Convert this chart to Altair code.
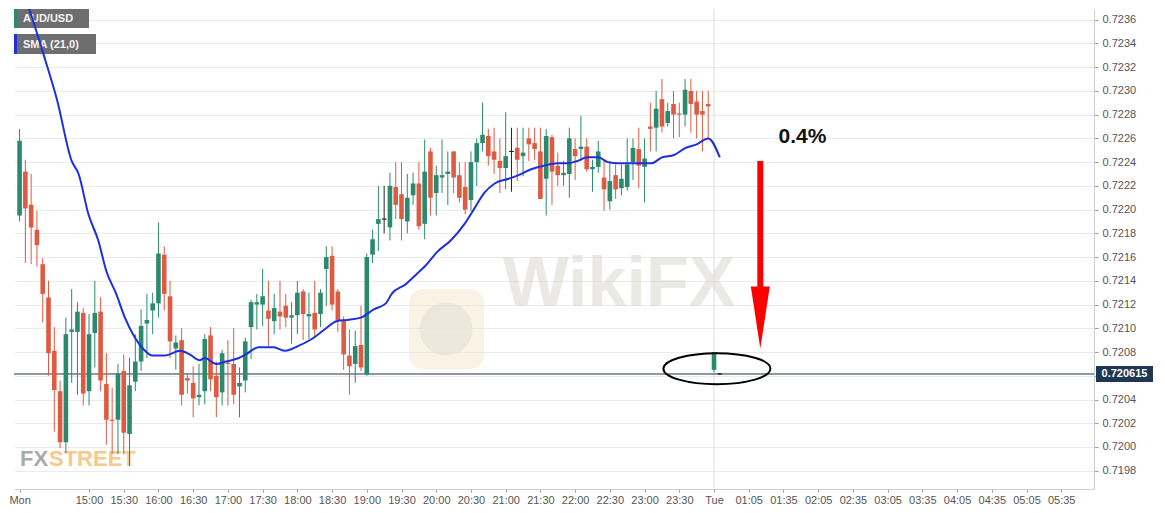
import altair as alt
import pandas as pd
import numpy as np

# ---- 5-minute AUD/USD candles, Mon 14:00 -> Tue 00:05 (index 0 = 14:00) ----
opens = [
    .72195, .72232, .72204, .72183, .72154, .72126, .72081, .72047, .72004, .72097,
    .72097, .72113, .72047, .72096, .72114, .72053, .72023, .72023, .72064, .72011,
    .72055, .72072, .72104, .72115, .72121, .72162, .72127, .72083, .72090, .72058,
    .72054, .72042, .72047, .72094, .72060, .72046, .72071, .72070, .72051, .72056,
    .72101, .72120, .72120, .72115, .72106, .72114, .72119, .72109, .72111, .72131,
    .72110, .72113, .72112, .72150, .72161, .72131, .72106, .72077, .72070, .72086,
    .72061, .72162, .72188, .72192, .72185, .72219, .72213, .72190, .72212, .72222,
    .72188, .72249, .72214, .72227, .72230, .72249, .72229, .72219, .72208, .72240,
    .72256, .72262, .72249, .72241, .72235, .72249, .72252, .72245, .72260, .72256,
    .72249, .72226, .72261, .72237, .72229, .72230, .72251, .72251, .72253, .72234,
    .72236, .72227, .72207, .72229, .72218, .72219, .72240, .72251, .72236, .72270,
    .72269, .72293, .72273, .72289, .72281, .72280, .72300, .72291, .72283, .72289,
    .72065, .720615,
]
highs = [
    .72268, .72242, .72230, .72199, .72159, .72140, .72101, .72056, .72109, .72133,
    .72122, .72117, .72112, .72140, .72126, .72079, .72050, .72070, .72078, .72075,
    .72095, .72116, .72129, .72130, .72189, .72169, .72140, .72094, .72100, .72062,
    .72068, .72070, .72095, .72101, .72072, .72082, .72090, .72100, .72067, .72092,
    .72124, .72129, .72150, .72140, .72129, .72140, .72129, .72122, .72140, .72133,
    .72130, .72140, .72133, .72169, .72169, .72133, .72110, .72099, .72098, .72119,
    .72163, .72183, .72220, .72220, .72231, .72240, .72240, .72230, .72231, .72240,
    .72259, .72252, .72237, .72259, .72249, .72249, .72240, .72240, .72249, .72260,
    .72290, .72268, .72269, .72260, .72282, .72269, .72269, .72269, .72269, .72269,
    .72269, .72268, .72263, .72248, .72241, .72269, .72260, .72279, .72260, .72242,
    .72258, .72241, .72241, .72238, .72238, .72260, .72260, .72269, .72260, .72290,
    .72300, .72310, .72290, .72300, .72290, .72310, .72310, .72300, .72300, .72300,
    .72080, .720625,
]
lows = [
    .72190, .72155, .72154, .72152, .72105, .72060, .72013, .71999, .71995, .72054,
    .72044, .72035, .72035, .72067, .72047, .72002, .71994, .71994, .71994, .71984,
    .72047, .72064, .72075, .72095, .72109, .72115, .72075, .72065, .72035, .72045,
    .72025, .72035, .72036, .72047, .72025, .72035, .72035, .72036, .72025, .72046,
    .72074, .72099, .72102, .72085, .72095, .72099, .72101, .72087, .72095, .72090,
    .72091, .72092, .72101, .72119, .72115, .72097, .72065, .72044, .72054, .72064,
    .72060, .72155, .72165, .72180, .72174, .72192, .72174, .72180, .72204, .72183,
    .72175, .72195, .72195, .72214, .72204, .72214, .72206, .72196, .72199, .72220,
    .72249, .72237, .72230, .72214, .72217, .72215, .72224, .72228, .72241, .72242,
    .72209, .72195, .72204, .72220, .72220, .72210, .72225, .72241, .72232, .72215,
    .72231, .72199, .72200, .72209, .72212, .72216, .72225, .72218, .72206, .72249,
    .72249, .72265, .72270, .72260, .72261, .72270, .72265, .72260, .72249, .72260,
    .72063, .72061,
]
closes = [
    .72258, .72201, .72185, .72170, .72129, .72079, .72048, .72004, .72095, .72099,
    .72114, .72045, .72095, .72113, .72056, .72023, .72022, .72062, .72012, .72052,
    .72072, .72102, .72107, .72121, .72163, .72129, .72089, .72088, .72044, .72056,
    .72041, .72044, .72091, .72057, .72042, .72079, .72070, .72044, .72054, .72089,
    .72122, .72122, .72127, .72108, .72117, .72110, .72109, .72111, .72130, .72112,
    .72112, .72099, .72130, .72160, .72120, .72106, .72078, .72068, .72085, .72067,
    .72160, .72175, .72192, .72192, .72220, .72204, .72192, .72210, .72222, .72186,
    .72232, .72210, .72229, .72229, .72232, .72227, .72210, .72200, .72240, .72256,
    .72263, .72245, .72242, .72235, .72245, .72249, .72242, .72248, .72255, .72251,
    .72209, .72262, .72232, .72229, .72231, .72260, .72245, .72253, .72234, .72236,
    .72249, .72217, .72224, .72217, .72226, .72238, .72252, .72237, .72243, .72268,
    .72285, .72270, .72283, .72280, .72280, .72301, .72289, .72280, .72280, .72287,
    .72080, .720615,
]

# ---- SMA(21) (candle index, value) ----
sma_idx = [0, 1.14, 4.5, 6.5, 9, 10.2, 11.9, 13.6, 15, 16.7, 18.2, 19.6, 21.3, 23, 25.2,
           27.7, 29.4, 31.1, 32, 34, 35.7, 37.9, 39.1, 41.3, 43.9, 45.9, 48.1, 50.5, 52.7,
           54.8, 56.6, 59, 61.2, 63.3, 64.3, 66.7, 68.9, 70, 72.3, 74.5, 76.9, 78.6, 80.3,
           82.1, 84.5, 86.2, 88.4, 90.6, 93, 94.7, 96.4, 98.1, 100, 101.7, 103.4, 106.3,
           109.2, 111, 113.1, 115.1, 117, 119, 121]
sma_val = [.72390, .72376, .72325, .72292, .72241, .72230, .72196, .72174, .72148, .72129,
           .72109, .72095, .72083, .72077, .72077, .72081, .72078, .72073, .72075, .72070,
           .72072, .72075, .72078, .72084, .72084, .72081, .72085, .72091, .72099, .72106,
           .72107, .72109, .72116, .72121, .72129, .72137, .72147, .72152, .72165, .72174,
           .72188, .72201, .72214, .72222, .72226, .72229, .72234, .72237, .72239, .72239,
           .72241, .72244, .72244, .72240, .72239, .72239, .72239, .72244, .72246, .72252,
           .72255, .72260, .72244]

# ---- axis ticks ----
tick_idx = [0, 12, 18, 24, 30, 36, 42, 48, 54, 60, 66, 72, 78, 84, 90, 96, 102, 108, 114,
            120, 126, 132, 138, 144, 150, 156, 162, 168, 174, 180]
tick_text = ["Mon", "15:00", "15:30", "16:00", "16:30", "17:00", "17:30", "18:00", "18:30",
             "19:00", "19:30", "20:00", "20:30", "21:00", "21:30", "22:00", "22:30", "23:00",
             "23:30", "Tue", "01:05", "01:35", "02:05", "02:35", "03:05", "03:35", "04:05",
             "04:35", "05:05", "05:35"]
y_ticks = [0.7198, 0.7200, 0.7202, 0.7204, 0.7206, 0.7208, 0.7210, 0.7212, 0.7214, 0.7216,
           0.7218, 0.7220, 0.7222, 0.7224, 0.7226, 0.7228, 0.7230, 0.7232, 0.7234, 0.7236]
hidden_y_label = "0.7206"   # covered by the last-price tag

# ---- annotations ----
last_price = [0.720615]
last_label = ["0.720615"]
session_idx = [120]
arrow_idx = [128]
arrow_top = [0.72241]
arrow_bottom = [0.72134]
arrow_head = [0.72109]
pct_idx = [135.3]
pct_val = [0.72261]
pct_text = ["0.4%"]
ellipse_idx = [120.5]
ellipse_val = [0.72066]
legend_text = ["AUD/USD", "SMA (21,0)"]
logo_text = ["FX", "STREET"]
watermark_text = ["WikiFX"]

# ---------------------------------------------------------------
n = len(opens)
candles = pd.DataFrame({"i": list(range(n)), "open": opens, "high": highs,
                        "low": lows, "close": closes})
o = candles["open"].to_numpy()
c = candles["close"].to_numpy()
candles["dir"] = np.where(c > o, "up", np.where(c < o, "down", "flat"))
lo = np.minimum(o, c)
hi = np.maximum(o, c)
mid = (lo + hi) / 2
thin = (hi - lo) < 1e-5
candles["b0"] = np.where(thin, mid - 5e-6, lo)
candles["b1"] = np.where(thin, mid + 5e-6, hi)

sma = pd.DataFrame({"i": sma_idx, "v": sma_val})

XMIN, XMAX = -0.1, 184.8
YMIN, YMAX = 0.719646, 0.72369
xs = alt.Scale(domain=[XMIN, XMAX], nice=False, zero=False)
ys = alt.Scale(domain=[YMIN, YMAX], nice=False, zero=False)

expr = "''"
for v, t in reversed(list(zip(tick_idx, tick_text))):
    expr = f"datum.value == {v} ? '{t}' : ({expr})"

xaxis = alt.Axis(values=tick_idx, labelExpr=expr, grid=False, title=None, tickSize=3,
                 labelPadding=2, labelFlush=3, labelOverlap=False,
                 domainColor="#d0d0d0", tickColor="#9a9a9a")
yaxis = alt.Axis(orient="right", values=y_ticks, format=".4f", title=None, tickSize=4,
                 labelPadding=4, grid=True, gridColor="#ebebeb", domainColor="#d0d0d0",
                 tickColor="#9a9a9a", labelOverlap=False,
                 labelExpr=f"datum.label == '{hidden_y_label}' ? '' : datum.label")


def X(f):
    return alt.X(f, scale=xs, axis=xaxis)


def Y(f):
    return alt.Y(f, scale=ys, axis=yaxis)


one = pd.DataFrame({"k": [0]})
LAB = "Liberation Sans"

# watermark (faint)
wm_box = alt.Chart(one).mark_rect(color="#f6ead0", opacity=0.55, cornerRadius=14).encode(
    x=alt.value(395), x2=alt.value(470), y=alt.value(280), y2=alt.value(360))
wm_circle = alt.Chart(one).mark_point(shape="circle", size=2800, filled=True,
                                      color="#e2dcd6", opacity=0.55).encode(
    x=alt.value(432), y=alt.value(320))
wm_text = alt.Chart(pd.DataFrame({"t": watermark_text})).mark_text(
    font=LAB, fontSize=70, fontWeight="bold", color="#d9d4ce", opacity=0.5,
    align="center", baseline="middle").encode(x=alt.value(605), y=alt.value(276), text="t:N")

# FXSTREET logo
logo_fx = alt.Chart(pd.DataFrame({"t": [logo_text[0]]})).mark_text(
    font=LAB, fontSize=22, fontWeight="bold", color="#9c9c9c", opacity=0.85, align="left",
    baseline="alphabetic").encode(x=alt.value(6), y=alt.value(457), text="t:N")
logo_st = alt.Chart(pd.DataFrame({"t": [logo_text[1]]})).mark_text(
    font=LAB, fontSize=22, fontWeight="bold", color="#f4bc70", opacity=0.8, align="left",
    baseline="alphabetic").encode(x=alt.value(35), y=alt.value(457), text="t:N")

session = alt.Chart(pd.DataFrame({"i": session_idx})).mark_rule(
    color="#dcdcdc", strokeWidth=1).encode(x=X("i:Q"))

color = alt.Color("dir:N", scale=alt.Scale(domain=["up", "down", "flat"],
                                           range=["#2b8a6e", "#df5a42", "#222222"]),
                  legend=None)

wicks = alt.Chart(candles).mark_rule(strokeWidth=1).encode(
    x=X("i:Q"), y=Y("low:Q"), y2="high:Q", color=color)
bodies = alt.Chart(candles).mark_bar(size=4.6).encode(
    x=X("i:Q"), y=Y("b0:Q"), y2="b1:Q", color=color)

sma_line = alt.Chart(sma).mark_line(color="#1c30e0", strokeWidth=2, clip=True,
                                    interpolate="monotone").encode(
    x=X("i:Q"), y=Y("v:Q"))

price_line = alt.Chart(pd.DataFrame({"p": last_price})).mark_rule(
    color="#1e3350", strokeWidth=1).encode(y=Y("p:Q"))

# legend boxes (top-left)
leg1 = alt.Chart(one).mark_rect(color="#666666", opacity=0.95).encode(
    x=alt.value(0), x2=alt.value(75), y=alt.value(0), y2=alt.value(19))
leg1s = alt.Chart(one).mark_rect(color="#2b8a6e").encode(
    x=alt.value(0), x2=alt.value(3), y=alt.value(0), y2=alt.value(19))
leg2 = alt.Chart(one).mark_rect(color="#666666", opacity=0.95).encode(
    x=alt.value(0), x2=alt.value(82), y=alt.value(25), y2=alt.value(45))
leg2s = alt.Chart(one).mark_rect(color="#1c30e0").encode(
    x=alt.value(0), x2=alt.value(3), y=alt.value(25), y2=alt.value(45))
leg1t = alt.Chart(pd.DataFrame({"t": [legend_text[0]]})).mark_text(
    font=LAB, fontSize=11, fontWeight="bold", color="#f4f4f4", align="left",
    baseline="middle").encode(x=alt.value(9), y=alt.value(10), text="t:N")
leg2t = alt.Chart(pd.DataFrame({"t": [legend_text[1]]})).mark_text(
    font=LAB, fontSize=11, fontWeight="bold", color="#f4f4f4", align="left",
    baseline="middle").encode(x=alt.value(9), y=alt.value(35.5), text="t:N")

# red arrow
arr = pd.DataFrame({"i": arrow_idx, "top": arrow_top, "bot": arrow_bottom, "head": arrow_head})
shaft = alt.Chart(arr).mark_rule(color="#ff0000", strokeWidth=6).encode(
    x=X("i:Q"), y=Y("top:Q"), y2="bot:Q")
head = alt.Chart(arr).mark_point(shape="M -0.306 -1 L 0.306 -1 L 0 1 Z", size=3844,
                                 filled=True, color="#ff0000", opacity=1).encode(
    x=X("i:Q"), y=Y("head:Q"))

pct = alt.Chart(pd.DataFrame({"i": pct_idx, "v": pct_val, "t": pct_text})).mark_text(
    font=LAB, fontSize=21, fontWeight="bold", color="#111111", align="center",
    baseline="middle").encode(x=X("i:Q"), y=Y("v:Q"), text="t:N")

ellipse = alt.Chart(pd.DataFrame({"i": ellipse_idx, "v": ellipse_val})).mark_point(
    shape="M -1 0 A 1 0.29 0 1 0 1 0 A 1 0.29 0 1 0 -1 0 Z", size=11449, filled=False,
    color="#000000", strokeWidth=2, opacity=1).encode(x=X("i:Q"), y=Y("v:Q"))

# last price tag on the right axis
tag_df = pd.DataFrame({"p": last_price, "t": last_label})
tag = alt.Chart(tag_df).mark_rect(color="#1e3755", yOffset=-8, y2Offset=8).encode(
    x=alt.value(1082), x2=alt.value(1139), y=Y("p:Q"), y2="p:Q")
tag_text = alt.Chart(tag_df).mark_text(
    font=LAB, fontSize=11, fontWeight="bold", color="#ffffff", align="center",
    baseline="middle").encode(x=alt.value(1110.5), y=Y("p:Q"), text="t:N")

chart = alt.layer(
    wm_box, wm_circle, wm_text, logo_fx, logo_st, session, price_line,
    wicks, bodies, leg1, leg1s, leg2, leg2s, leg1t, leg2t, sma_line,
    shaft, head, pct, ellipse, tag, tag_text,
).properties(
    width=1080, height=480, padding=0, background="#ffffff"
).configure_view(
    stroke=None
).configure_axis(
    labelFont=LAB, labelFontSize=11, labelColor="#555555"
)

chart.save("out.html", embed_options={"renderer": "svg", "actions": False})
